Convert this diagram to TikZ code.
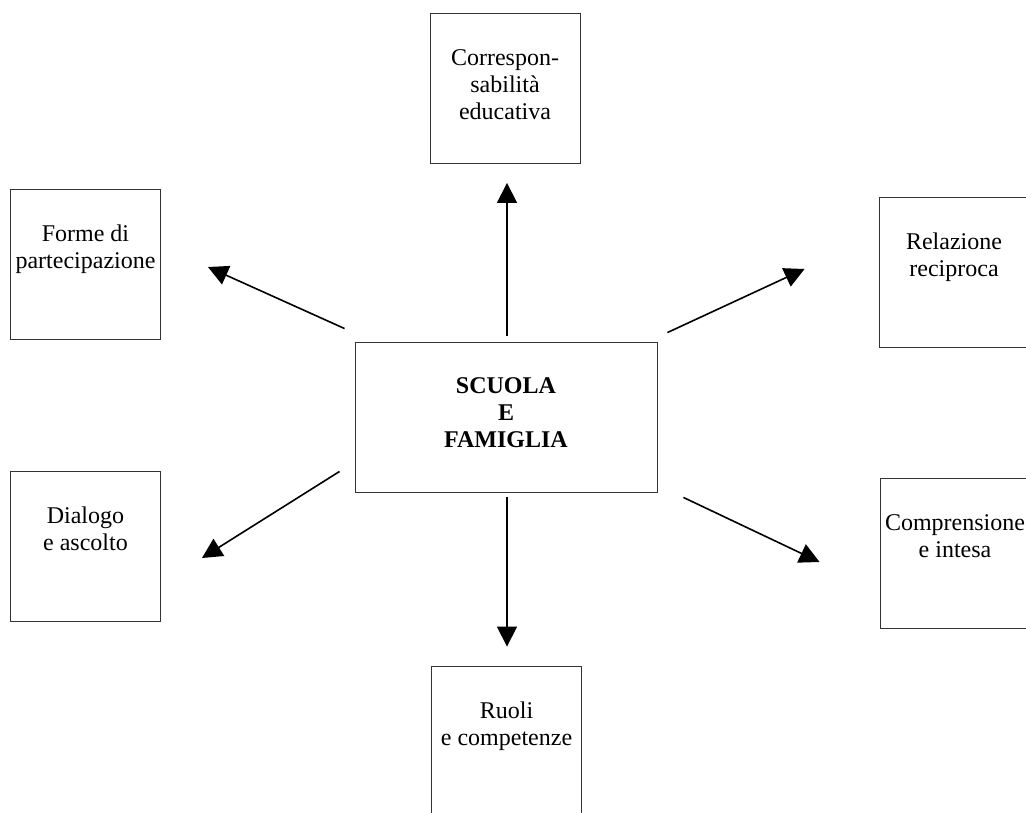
\documentclass[tikz,border=0pt]{standalone}
\usepackage{fontspec}
\setmainfont{Liberation Serif}
\usetikzlibrary{arrows.meta, calc}
\definecolor{boxline}{HTML}{333333}

\begin{document}
\begin{tikzpicture}[x=1pt, y=-1pt, font=\fontsize{24}{27}\selectfont,
  box/.style={draw=boxline, line width=0.9pt, minimum width=150pt, minimum height=150pt, inner sep=0pt},
  txt/.style={anchor=north, yshift=-36pt, align=center, inner sep=0pt},
  arr/.style={-{Triangle[length=20pt, width=20pt]}, line width=1.6pt}]
  \useasboundingbox (0,0) rectangle (1026,812);
  % central box
  \node[box, minimum width=302pt, label={[txt, font=\fontsize{24}{27}\selectfont\bfseries]north:{SCUOLA\\E\\FAMIGLIA}}] (sf) at (506,417) {};
  % boxes round it
  \node[box, label={[txt]north:{Correspon-\\sabilità\\educativa}}] (cr) at (505,88.5) {};
  \node[box, label={[txt]north:{Forme di\\partecipazione}}] (fp) at (85.5,264.5) {};
  \node[box, label={[txt]north:{Relazione\\reciproca}}] (rr) at (954,272.5) {};
  \node[box, label={[txt]north:{Dialogo\\e ascolto}}] (di) at (85.5,546) {};
  \node[box, label={[txt]north:{Comprensione\\e intesa}}] (ci) at (955,553.5) {};
  \node[box, label={[txt]north:{Ruoli\\e competenze}}] (rc) at (506.5,741) {};
  % arrows
  \draw[arr] ($(sf.north)+(1,-6)$) -- ($(cr.south)+(2,19)$);
  \draw[arr] ($(sf.north west)+(-10,-13)$) -- ($(fp.east)+(47,2.5)$);
  \draw[arr] ($(sf.north east)+(10,-9)$) -- ($(rr.west)+(-74,-3.5)$);
  \draw[arr] ($(sf.south west)+(-15,-21)$) -- ($(di.east)+(41,12)$);
  \draw[arr] ($(sf.south east)+(26,5)$) -- ($(ci.west)+(-60,8.5)$);
  \draw[arr] ($(sf.south)+(1,5)$) -- ($(rc.north)+(0.5,-19)$);
\end{tikzpicture}
\end{document}
